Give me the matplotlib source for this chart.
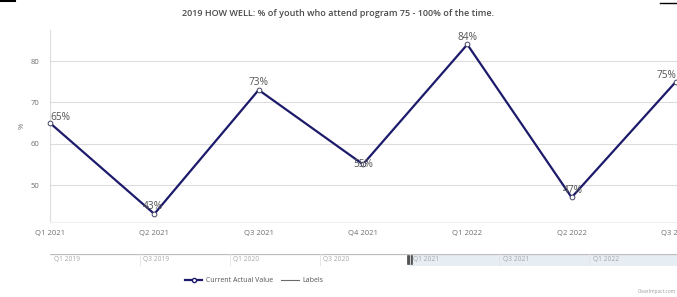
"""Recreation of the ClearImpact 'HOW WELL' attendance line chart."""

import matplotlib

matplotlib.use("Agg")

import matplotlib.pyplot as plt
from matplotlib.lines import Line2D
from matplotlib.patches import Rectangle

C_LINE = "#1c1a6b"
C_GRID = "#dcdcdc"
C_TEXT = "#6e6e6e"
C_LABEL = "#555555"
C_NAV = "#e6edf3"

quarters = ["Q1 2021", "Q2 2021", "Q3 2021", "Q4 2021", "Q1 2022", "Q2 2022", "Q3 2022"]
values = [65, 43, 73, 55, 84, 47, 75]
y_ticks = [50, 60, 70, 80]

nav_quarters = ["Q1 2019", "Q3 2019", "Q1 2020", "Q3 2020", "Q1 2021", "Q3 2021", "Q1 2022"]
nav_positions = [0, 2, 4, 6, 8, 10, 12]
nav_selected_start = 8

# label placement per point: (dx in points, dy in points, ha)
label_offsets = [(0, 4.3, "left"), (-1, 5, "center"), (0, 5, "center"), (0, 0, "center"),
                 (0, 4.7, "center"), (1, 5, "center"), (0, 4.7, "right")]

plt.rcParams.update({"font.family": ["Open Sans", "DejaVu Sans"]})

fig = plt.figure(figsize=(6.77, 2.97), dpi=100)
fig.patch.set_facecolor("white")

ax = fig.add_axes([50 / 677, 1 - 222 / 297, 1 - 50 / 677, 192 / 297])
x = list(range(len(quarters)))
ax.plot(x, values, color=C_LINE, lw=1.6, marker="o", ms=3.4,
        mfc="white", mec="#444466", mew=0.7, clip_on=False, zorder=3)
for xi, v, (dx, dy, ha) in zip(x, values, label_offsets):
    ax.annotate(f"{v}%", (xi, v), xytext=(dx, dy), textcoords="offset points",
                ha=ha, va="center", fontsize=7.3, color=C_LABEL, zorder=4)

ax.set_xlim(0, 6.01)
ax.set_ylim(41.05, 87.5)
ax.set_yticks(y_ticks)
ax.set_xticks(x)
ax.set_xticklabels(quarters)
ax.tick_params(axis="both", length=0, labelsize=5.5, colors=C_TEXT)
ax.tick_params(axis="y", pad=8)
ax.tick_params(axis="x", pad=6)
ax.grid(axis="y", color=C_GRID, lw=0.8)
for side in ["top", "right"]:
    ax.spines[side].set_visible(False)
ax.spines["left"].set_color(C_GRID)
ax.spines["bottom"].set_color("#f0f0f0")
ax.set_ylabel("%", fontsize=5.5, color=C_TEXT, labelpad=3)

fig.text(338 / 677, 1 - 13 / 297,
         "2019 HOW WELL: % of youth who attend program 75 - 100% of the time.",
         ha="center", va="center", fontsize=6.5, fontweight="semibold", color="#4a4a4a")

# navigator strip
nav = fig.add_axes([50 / 677, 1 - 266 / 297, 1 - 50 / 677, 12 / 297])
nav.set_xlim(0, 13.95)
nav.set_ylim(0, 1)
nav.axis("off")
nav.add_patch(Rectangle((nav_selected_start, 0), 13.95 - nav_selected_start, 1,
                        facecolor=C_NAV, edgecolor="none"))
nav.axhline(1, color="#bdbdbd", lw=0.9)
nav.axhline(0, color="#e0e0e0", lw=0.6)
for p, lab in zip(nav_positions, nav_quarters):
    if p > 0:
        nav.axvline(p, color="#e4e4e4", lw=0.6)
    nav.text(p + 0.08, 0.5, lab, fontsize=4.8, color="#a8a8a8", va="center", ha="left")
nav.add_patch(Rectangle((nav_selected_start - 0.06, 0.15), 0.12, 0.75,
                        facecolor="#555555", edgecolor="#333333", lw=0.4))

# legend
handles = [
    Line2D([], [], color=C_LINE, lw=1.6, marker="o", ms=3, mfc="white", mec=C_LINE),
    Line2D([], [], color="#6a6a6a", lw=0.8),
]
fig.legend(handles, ["Current Actual Value", "Labels"], loc="center",
           bbox_to_anchor=(254 / 677, 1 - 281 / 297), ncol=2, frameon=False,
           fontsize=5, labelcolor="#555555", handlelength=2.5, columnspacing=1.2,
           handletextpad=0.5)

fig.text(676 / 677, 1 - 292 / 297, "ClearImpact.com", ha="right", va="center",
         fontsize=3.5, color="#9a9a9a")

# corner strokes of the screenshot
fig.add_artist(Line2D([0, 15 / 677], [1 - 1 / 297, 1 - 1 / 297], color="black", lw=1.5))
fig.add_artist(Line2D([660 / 677, 1], [1 - 3 / 297, 1 - 3 / 297], color="black", lw=1.0))

fig.savefig("out.png", dpi=100, facecolor="white")
